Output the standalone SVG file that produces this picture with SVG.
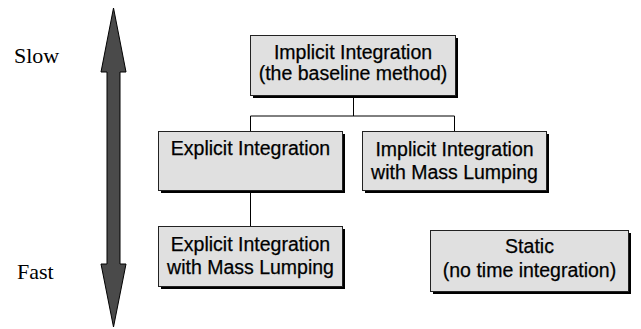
<svg xmlns="http://www.w3.org/2000/svg" width="641" height="329" viewBox="0 0 641 329">
<style>
.box{fill:#e0e0e0;stroke:#222;stroke-width:1}
.sh{fill:#000}
.t{font-family:"Liberation Sans",Arial,sans-serif;font-size:19.5px;fill:#000;stroke:#000;stroke-width:0.25;text-anchor:middle}
.s{font-family:"Liberation Serif","Times New Roman",serif;font-size:22px;fill:#000}
.c{stroke:#000;stroke-width:1;fill:none}
</style>
<rect width="641" height="329" fill="#fff"/>
<g id="speed-arrow">
<polygon points="113.5,8 126,72 120,72 120,264 126,264 113.5,327 101,264 107,264 107,72 101,72" fill="#4a4a4a" stroke="#000" stroke-width="1"/>
</g>
<text id="slow" class="s" x="14" y="63">Slow</text>
<text id="fast" class="s" x="17" y="279">Fast</text>
<g id="connectors">
<path class="c" d="M353.5,96 V116 M250.5,116 H454.5 M250.5,116 V132 M454.5,116 V132 M250.5,191 V227"/>
</g>
<g id="implicit">
<rect class="sh" x="253" y="38" width="205" height="60"/>
<rect class="box" x="250.5" y="35.5" width="205" height="60"/>
<text class="t" x="353" y="59">Implicit Integration</text>
<text class="t" x="353" y="80">(the baseline method)</text>
</g>
<g id="explicit">
<rect class="sh" x="161" y="134" width="184" height="59"/>
<rect class="box" x="158.5" y="131.5" width="184" height="59"/>
<text class="t" x="250.5" y="155">Explicit Integration</text>
</g>
<g id="implicit-lumped">
<rect class="sh" x="365" y="134" width="184" height="59"/>
<rect class="box" x="362.5" y="131.5" width="184" height="59"/>
<text class="t" x="454.5" y="156">Implicit Integration</text>
<text class="t" x="454.5" y="179">with Mass Lumping</text>
</g>
<g id="explicit-lumped">
<rect class="sh" x="161" y="229" width="184" height="60"/>
<rect class="box" x="158.5" y="226.5" width="184" height="60"/>
<text class="t" x="250.5" y="251">Explicit Integration</text>
<text class="t" x="250.5" y="274">with Mass Lumping</text>
</g>
<g id="static">
<rect class="sh" x="433" y="233" width="198" height="61"/>
<rect class="box" x="430.5" y="230.5" width="198" height="61"/>
<text class="t" x="529.5" y="253">Static</text>
<text class="t" x="529.5" y="277">(no time integration)</text>
</g>
</svg>
